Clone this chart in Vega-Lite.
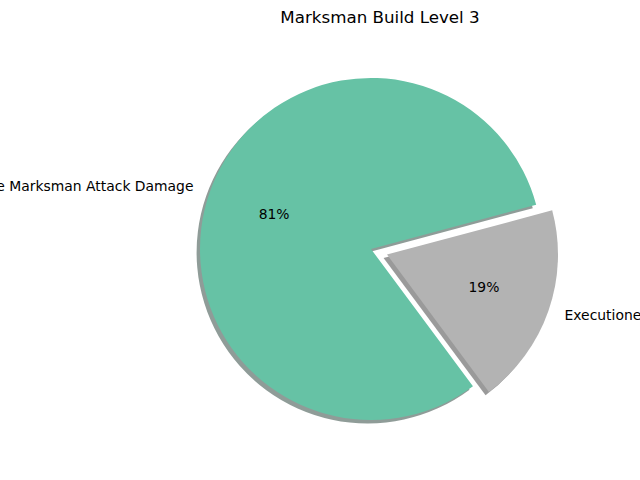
{
  "$schema": "https://vega.github.io/schema/vega-lite/v6.json",
  "autosize": "none",
  "width": 538,
  "height": 462,
  "padding": {"left": 102, "top": 18, "right": 0, "bottom": 0},
  "background": "white",
  "config": {"view": {"stroke": null}},
  "title": {"text": "Marksman Build Level 3", "font": "DejaVu Sans", "fontSize": 16.7, "fontWeight": "normal", "color": "black", "anchor": "middle", "dx": 9, "offset": -9},
  "data": {"values": [
    {"label": "Executioner", "share": 0.19},
    {"label": "Increase Marksman Attack Damage", "share": 0.81}
  ]},
  "encoding": {
    "theta": {"field": "share", "type": "quantitative", "stack": true, "scale": {"domain": [0, 1], "range": [1.309, 7.5922]}},
    "order": {"field": "label", "type": "nominal", "sort": "ascending"}
  },
  "layer": [
    {
      "mark": {"type": "arc", "outerRadius": 171, "fill": "#1f3a32", "xOffset": -3.4, "yOffset": 3.4},
      "encoding": {"opacity": {"condition": {"test": "datum.label === 'Executioner'", "value": 0}, "value": 0.5}}
    },
    {
      "mark": {"type": "arc", "outerRadius": 171, "fill": "#363636", "xOffset": 12.6, "yOffset": 9},
      "encoding": {"opacity": {"condition": {"test": "datum.label === 'Executioner'", "value": 0.5}, "value": 0}}
    },
    {
      "mark": {"type": "arc", "outerRadius": 171},
      "encoding": {
        "color": {"field": "label", "type": "nominal", "legend": null, "scale": {"domain": ["Executioner", "Increase Marksman Attack Damage"], "range": ["#b3b3b3", "#66c2a5"]}},
        "opacity": {"condition": {"test": "datum.label === 'Executioner'", "value": 0}, "value": 1}
      }
    },
    {
      "mark": {"type": "arc", "outerRadius": 171, "xOffset": 16, "yOffset": 5.6},
      "encoding": {
        "color": {"field": "label", "type": "nominal", "legend": null},
        "opacity": {"condition": {"test": "datum.label === 'Executioner'", "value": 1}, "value": 0}
      }
    },
    {
      "mark": {"type": "text", "radius": 102.6, "align": "center", "baseline": "middle", "font": "DejaVu Sans", "fontSize": 13.9, "color": "black"},
      "encoding": {"text": {"field": "share", "type": "quantitative", "format": ".0%", "condition": {"test": "datum.label === 'Executioner'", "value": ""}}}
    },
    {
      "mark": {"type": "text", "radius": 102.6, "align": "center", "baseline": "middle", "font": "DejaVu Sans", "fontSize": 13.9, "color": "black", "xOffset": 16, "yOffset": 5.6},
      "encoding": {"text": {"field": "share", "type": "quantitative", "format": ".0%", "condition": {"test": "datum.label !== 'Executioner'", "value": ""}}}
    },
    {
      "mark": {"type": "text", "radius": 188, "align": "right", "baseline": "middle", "font": "DejaVu Sans", "fontSize": 13.9, "color": "black"},
      "encoding": {"text": {"field": "label", "type": "nominal", "condition": {"test": "datum.label === 'Executioner'", "value": ""}}}
    },
    {
      "mark": {"type": "text", "radius": 188, "align": "left", "baseline": "middle", "font": "DejaVu Sans", "fontSize": 13.9, "color": "black", "xOffset": 16, "yOffset": 5.6},
      "encoding": {"text": {"field": "label", "type": "nominal", "condition": {"test": "datum.label !== 'Executioner'", "value": ""}}}
    }
  ]
}
